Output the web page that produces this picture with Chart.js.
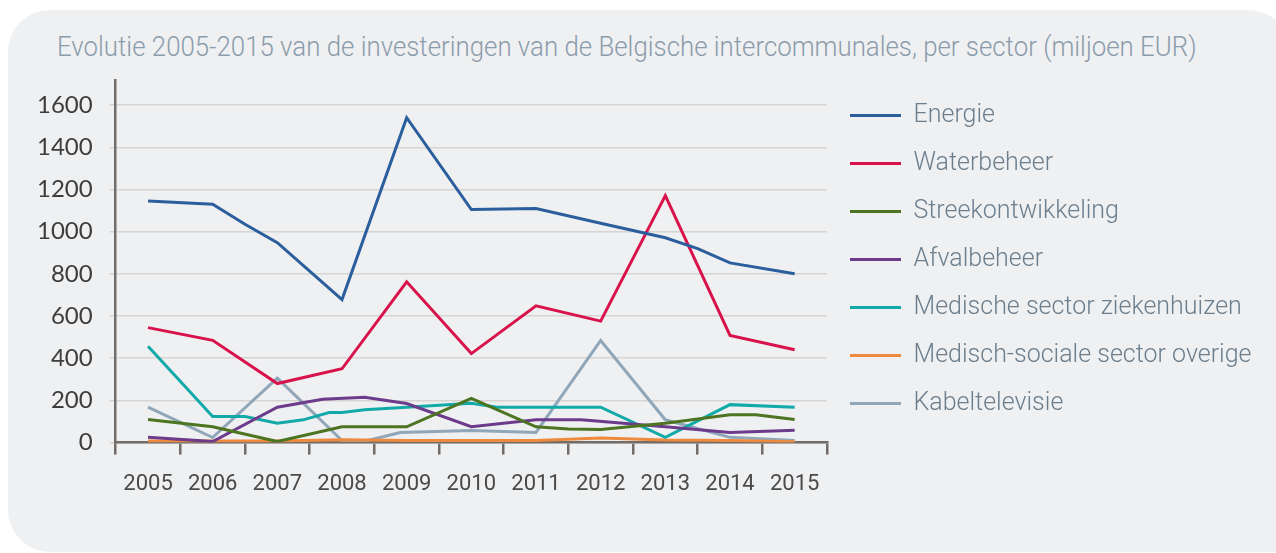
<!DOCTYPE html>
<html>
<head>
<meta charset="utf-8">
<script src="https://cdn.jsdelivr.net/npm/chart.js@4"></script>
<style>
  html, body { margin: 0; padding: 0; background: #ffffff; }
  #wrap { position: relative; width: 1276px; height: 553px; overflow: hidden; }
  #panel {
    position: absolute; left: 8px; top: 10px; width: 1290px; height: 542px;
    background: #eff0f2; border-radius: 42px 52px 0 42px;
  }
  #title {
    position: absolute; left: 57px; top: 34px; margin: 0;
    font: 300 27px Roboto, sans-serif;
    line-height: 27px; color: #8b9cab; white-space: nowrap;
    transform-origin: 0 0;
  }
  #box { position: absolute; left: 0; top: 0; width: 1276px; height: 553px; }
</style>
</head>
<body>
<div id="wrap">
  <div id="panel"></div>
  <div id="title">Evolutie 2005-2015 van de investeringen van de Belgische intercommunales, per sector (miljoen EUR)</div>
  <div id="box"><canvas id="myChart"></canvas></div>
</div>
<script>
const years = ["2005", "2006", "2007", "2008", "2009", "2010", "2011", "2012", "2013", "2014", "2015"];

const energieX = [2005, 2006, 2006.5, 2007, 2008, 2009, 2010, 2011, 2012, 2013, 2013.5, 2014, 2015];
const energie = [1145, 1130, 1035, 948, 678, 1540, 1105, 1110, 1040, 971, 920, 852, 800];

const waterX = [2005, 2006, 2007, 2008, 2009, 2010, 2011, 2012, 2013, 2014, 2015];
const waterbeheer = [545, 485, 280, 350, 762, 422, 648, 576, 1171, 508, 440];

const streekX = [2005, 2006, 2007, 2008, 2009, 2010, 2011, 2011.5, 2012, 2013, 2014, 2014.4, 2015];
const streekontwikkeling = [110, 75, 5, 75, 75, 210, 75, 65, 62, 92, 132, 132, 110];

const afvalX = [2005, 2006, 2007, 2007.7, 2008.35, 2009, 2010, 2011, 2011.7, 2013, 2014, 2015];
const afvalbeheer = [25, 5, 168, 205, 215, 185, 75, 108, 108, 75, 48, 58];

const ziekenX = [2005, 2006, 2006.5, 2007, 2007.4, 2007.8, 2008, 2008.35, 2009, 2010, 2010.4, 2012, 2013, 2014, 2015];
const ziekenhuizen = [457, 124, 124, 92, 108, 143, 143, 156, 168, 187, 168, 168, 25, 180, 168];

const socialeX = [2005, 2006, 2007, 2008, 2009, 2010, 2011, 2012, 2013, 2014, 2015];
const sociaalOverige = [8, 8, 8, 14, 10, 10, 10, 22, 12, 10, 4];

const kabelX = [2005, 2006, 2007, 2008, 2008.4, 2008.9, 2010, 2011, 2012, 2013, 2014, 2015];
const kabeltelevisie = [168, 24, 306, 10, 10, 48, 57, 48, 484, 108, 25, 10];

const yTicks = [0, 200, 400, 600, 800, 1000, 1200, 1400, 1600];

// squeeze the title to the width it has in the picture
const title = document.getElementById("title");
title.style.transform = "scaleX(" + (1140 / title.scrollWidth) + ")";

function pairs(xs, ys) {
  return xs.map((x, i) => ({ x: x, y: ys[i] }));
}

function serie(label, xs, ys, color) {
  return {
    label: label,
    data: pairs(xs, ys),
    borderColor: color,
    backgroundColor: color,
    borderWidth: 3,
    pointRadius: 0,
    tension: 0,
    xAxisID: "x",
  };
}

// legend takes all room right of the plot, so the plot ends at x = 827
const legendWidth = {
  id: "legendWidth",
  afterInit(chart) {
    const fit = chart.legend.fit;
    chart.legend.fit = function () {
      fit.call(this);
      this.width = 1276 - 827;
    };
  },
};

const ctx = document.getElementById("myChart").getContext("2d");
const myChart = new Chart(ctx, {
  type: "line",
  data: {
    labels: years,
    datasets: [
      serie("Energie", energieX, energie, "#2b5e9c"),
      serie("Waterbeheer", waterX, waterbeheer, "#d8134b"),
      serie("Streekontwikkeling", streekX, streekontwikkeling, "#4d7420"),
      serie("Afvalbeheer", afvalX, afvalbeheer, "#6c3b8b"),
      serie("Medische sector ziekenhuizen", ziekenX, ziekenhuizen, "#12aaa8"),
      serie("Medisch-sociale sector overige", socialeX, sociaalOverige, "#ee8a3d"),
      serie("Kabeltelevisie", kabelX, kabeltelevisie, "#90a6b9"),
    ],
  },
  plugins: [legendWidth],
  options: {
    responsive: true,
    maintainAspectRatio: false,
    animation: false,
    layout: {
      padding: { left: 20, top: 80, bottom: 38, right: 0 },
    },
    plugins: {
      tooltip: { enabled: false },
      legend: {
        position: "right",
        align: "start",
        labels: {
          usePointStyle: true,
          pointStyle: "line",
          pointStyleWidth: 51,
          boxHeight: 10,
          padding: 23,
          color: "#6b7e8d",
          font: { family: "Roboto", size: 25, weight: 300 },
        },
      },
    },
    scales: {
      x: {
        type: "linear",
        display: false,
        min: 2004.5,
        max: 2015.5,
      },
      xc: {
        type: "category",
        position: "bottom",
        labels: years,
        offset: true,
        grid: {
          offset: true,
          drawOnChartArea: false,
          drawTicks: true,
          tickLength: 12,
          color: "#736d69",
          lineWidth: 2.5,
        },
        border: { display: true, color: "#736d69", width: 2.5 },
        ticks: {
          padding: 17,
          color: "#4a4a4a",
          font: { family: "Roboto", size: 22 },
          maxRotation: 0,
          autoSkip: false,
        },
      },
      y: {
        min: 0,
        max: 1719,
        afterBuildTicks: (scale) => {
          scale.ticks = yTicks.map((v) => ({ value: v }));
        },
        grid: {
          color: "#d7d4d1",
          lineWidth: 1.5,
          tickLength: 6,
        },
        border: { display: true, color: "#736d69", width: 2.5 },
        ticks: {
          padding: 17,
          color: "#3d3d3d",
          font: { family: "Lato", size: 24 },
          callback: (v) => String(v),
        },
      },
    },
  },
});
</script>
</body>
</html>
